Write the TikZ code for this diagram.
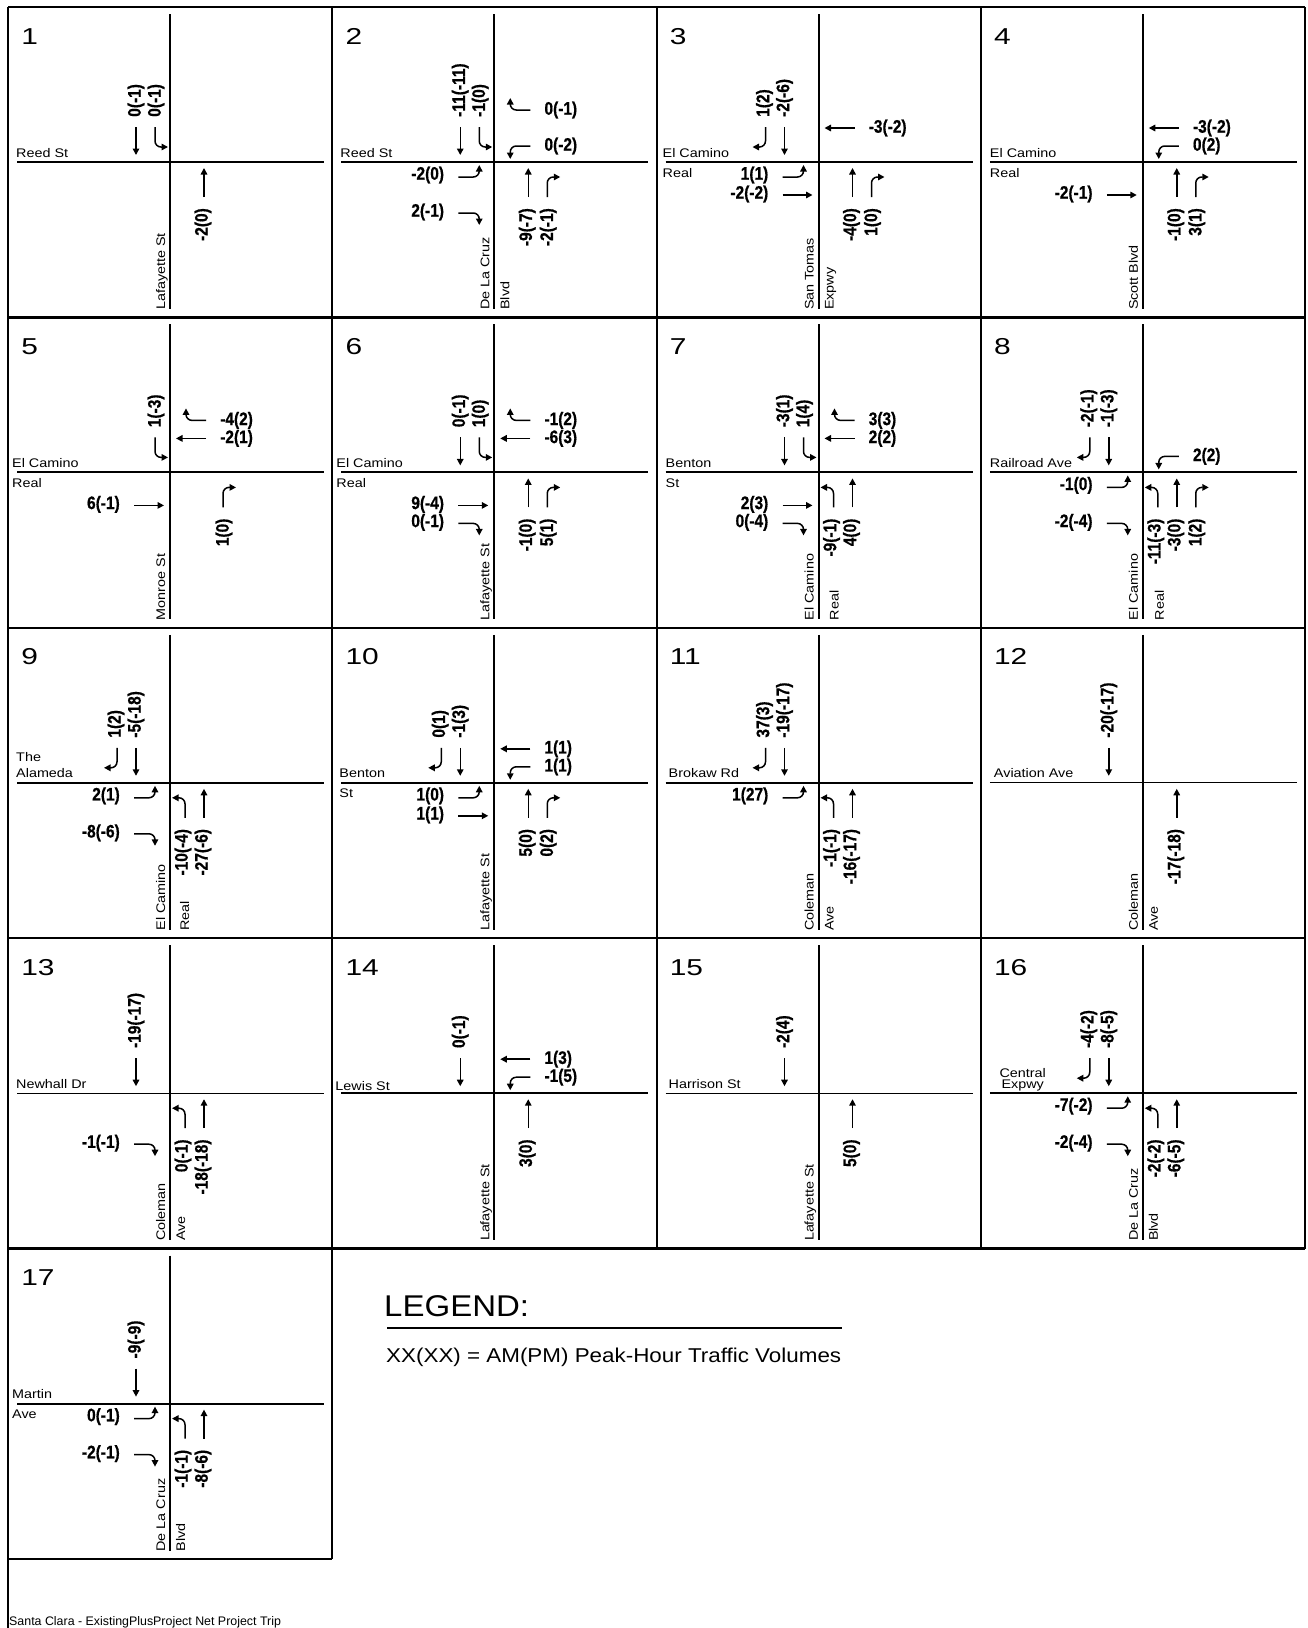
\documentclass[tikz,border=0pt]{standalone}
\usepackage{fontspec}
\setmainfont{Liberation Sans}
\usetikzlibrary{arrows.meta}
\newfontfamily\lsans{Liberation Sans}
\newfontfamily\volfam[FakeBold=0.7]{Liberation Sans Bold}
\newcommand\volf{\volfam\fontsize{15.5pt}{16pt}\selectfont}
\newcommand\stf{\lsans\fontsize{12.5pt}{13pt}\selectfont}
\newcommand\numf{\lsans\fontsize{23pt}{24pt}\selectfont}
\newcommand\legf{\lsans\fontsize{30pt}{32pt}\selectfont}
\newcommand\legtf{\lsans\fontsize{20pt}{22pt}\selectfont}
\newcommand\footf{\lsans\fontsize{12.4pt}{13pt}\selectfont}

\tikzset{
 road/.style={line width=2pt},
 roadthin/.style={line width=1.3pt},
 frameh/.style={line width=2.5pt},
 framev/.style={line width=2pt},
 mv/.style={line width=1.5pt, rounded corners=6pt, -{Triangle[length=6.5pt,width=6.5pt]}},
 vol/.style={font=\volf, inner sep=0pt, yscale=1.17},
 street/.style={font=\stf, inner sep=0pt, xscale=1.15},
 pnum/.style={font=\numf, inner sep=0pt, anchor=base west, xscale=1.3},
}

\newcommand\pnumber[1]{\node[pnum] (\pn num) at (-149,-118) {#1};}
\newcommand\roads{\draw[road] (0,-148) -- (0,147); \draw[road] (-153,0) -- (154,0);}
\newcommand\roadsT{\draw[road] (0,-148) -- (0,147); \draw[roadthin] (-153,0) -- (154,0);}
\newcommand\hst[2]{\node[street,anchor=base west] (\pn hs) at ({#1-162},-5) {#2};}
\newcommand\hstt[3]{\hst{#1}{#2}\node[street,anchor=base west] (\pn hsb) at ({#1-162},15) {#3};}
\newcommand\vst[1]{\node[rotate=90,street,anchor=base west] (\pn vs) at (-5,148) {#1};}
\newcommand\vstt[3]{\vst{#1}\node[rotate=90,street,anchor=base west] (\pn vsb) at (#3,148) {#2};}

\newcommand\mvSBT[1]{\draw[mv] (-34,-35) -- (-34,-7); \node[rotate=90,vol,anchor=west] (\pn sbT) at (-34,-45) {#1};}
\newcommand\mvSBL[1]{\draw[mv] (-15,-35) -- (-15,-15) -- (-2,-15); \node[rotate=90,vol,anchor=west] (\pn sbL) at (-14,-45) {#1};}
\newcommand\mvSBR[1]{\draw[mv] (-53,-35) -- (-53,-15) -- (-66,-15); \node[rotate=90,vol,anchor=west] (\pn sbR) at (-54,-45) {#1};}
\newcommand\mvNBT[1]{\draw[mv] (34,35) -- (34,6); \node[rotate=90,vol,anchor=east] (\pn nbT) at (33,46) {#1};}
\newcommand\mvNBL[1]{\draw[mv] (15,35) -- (15,15) -- (2,15); \node[rotate=90,vol,anchor=east] (\pn nbL) at (13,46) {#1};}
\newcommand\mvNBR[1]{\draw[mv] (53,35) -- (53,15) -- (66,15); \node[rotate=90,vol,anchor=east] (\pn nbR) at (54,46) {#1};}
\newcommand\mvWBT[1]{\draw[mv] (36,-34) -- (6,-34); \node[vol,anchor=west] (\pn wbT) at (50,-34) {#1};}
\newcommand\mvWBR[1]{\draw[mv] (36,-52) -- (16,-52) -- (16,-64); \node[vol,anchor=west] (\pn wbR) at (50,-52) {#1};}
\newcommand\mvWBL[1]{\draw[mv] (36,-16) -- (16,-16) -- (16,-3); \node[vol,anchor=west] (\pn wbL) at (50,-16) {#1};}
\newcommand\mvEBT[1]{\draw[mv] (-36,33) -- (-6,33); \node[vol,anchor=east] (\pn ebT) at (-50,32) {#1};}
\newcommand\mvEBL[1]{\draw[mv] (-36,15) -- (-15,15) -- (-15,3); \node[vol,anchor=east] (\pn ebL) at (-50,13) {#1};}
\newcommand\mvEBR[1]{\draw[mv] (-36,51) -- (-15,51) -- (-15,63); \node[vol,anchor=east] (\pn ebR) at (-50,50) {#1};}

\begin{document}
\begin{tikzpicture}[x=1pt,y=-1pt]
\useasboundingbox (0,0) rectangle (1308,1628);
\fill[white] (0,0) rectangle (1308,1628);

% frame
\draw[frameh] (8,7) -- (1305,7);
\draw[frameh] (8,317.4) -- (1305,317.4);
\draw[frameh] (8,627.8) -- (1305,627.8);
\draw[frameh] (8,938.2) -- (1305,938.2);
\draw[frameh] (8,1248.6) -- (1305,1248.6);
\draw[frameh] (8,1559) -- (332.25,1559);
\draw[framev] (332.25,7) -- (332.25,1559);
\draw[framev] (656.5,7) -- (656.5,1248.6);
\draw[framev] (980.75,7) -- (980.75,1248.6);
\draw[framev] (1305,7) -- (1305,1248.6);
\draw[line width=1.2pt] (8,7) -- (8,1628);

% 1
\begin{scope}[shift={(170,162)}]\def\pn{p1}
\roads\pnumber{1}
\hst{8}{Reed St}\vst{Lafayette St}
\mvSBT{0(-1)}\mvSBL{0(-1)}\mvNBT{-2(0)}
\end{scope}
% 2
\begin{scope}[shift={(494.25,162)}]\def\pn{p2}
\roads\pnumber{2}
\hst{8}{Reed St}\vstt{De La Cruz}{Blvd}{15}
\mvSBT{-11(-11)}\mvSBL{-1(0)}\mvWBR{0(-1)}\mvWBL{0(-2)}
\mvEBL{-2(0)}\mvEBR{2(-1)}\mvNBT{-9(-7)}\mvNBR{-2(-1)}
\end{scope}
% 3
\begin{scope}[shift={(818.5,162)}]\def\pn{p3}
\roads\pnumber{3}
\hstt{6}{El Camino}{Real}\vstt{San Tomas}{Expwy}{15}
\mvSBR{1(2)}\mvSBT{-2(-6)}\mvWBT{-3(-2)}\mvEBL{1(1)}\mvEBT{-2(-2)}
\mvNBT{-4(0)}\mvNBR{1(0)}
\end{scope}
% 4
\begin{scope}[shift={(1142.75,162)}]\def\pn{p4}
\roads\pnumber{4}
\hstt{9}{El Camino}{Real}\vst{Scott Blvd}
\mvWBT{-3(-2)}\mvWBL{0(2)}\mvEBT{-2(-1)}\mvNBT{-1(0)}\mvNBR{3(1)}
\end{scope}
% 5
\begin{scope}[shift={(170,472.4)}]\def\pn{p5}
\roads\pnumber{5}
\hstt{4}{El Camino}{Real}\vst{Monroe St}
\mvSBL{1(-3)}\mvWBR{-4(2)}\mvWBT{-2(1)}\mvEBT{6(-1)}\mvNBR{1(0)}
\end{scope}
% 6
\begin{scope}[shift={(494.25,472.4)}]\def\pn{p6}
\roads\pnumber{6}
\hstt{4}{El Camino}{Real}\vst{Lafayette St}
\mvSBT{0(-1)}\mvSBL{1(0)}\mvWBR{-1(2)}\mvWBT{-6(3)}
\mvEBT{9(-4)}\mvEBR{0(-1)}\mvNBT{-1(0)}\mvNBR{5(1)}
\end{scope}
% 7
\begin{scope}[shift={(818.5,472.4)}]\def\pn{p7}
\roads\pnumber{7}
\hstt{9}{Benton}{St}\vstt{El Camino}{Real}{20}
\mvSBT{-3(1)}\mvSBL{1(4)}\mvWBR{3(3)}\mvWBT{2(2)}
\mvEBT{2(3)}\mvEBR{0(-4)}\mvNBL{-9(-1)}\mvNBT{4(0)}
\end{scope}
% 8
\begin{scope}[shift={(1142.75,472.4)}]\def\pn{p8}
\roads\pnumber{8}
\hst{9}{Railroad Ave}\vstt{El Camino}{Real}{21}
\mvSBR{-2(-1)}\mvSBT{-1(-3)}\mvWBL{2(2)}\mvEBL{-1(0)}\mvEBR{-2(-4)}
\mvNBL{-11(-3)}\mvNBT{-3(0)}\mvNBR{1(2)}
\end{scope}
% 9
\begin{scope}[shift={(170,782.8)}]\def\pn{p9}
\roads\pnumber{9}
\node[street,anchor=base west] (\pn hs) at (-154,-21) {The};
\node[street,anchor=base west] (\pn hsb) at (-154,-5) {Alameda};
\vstt{El Camino}{Real}{19}
\mvSBR{1(2)}\mvSBT{-5(-18)}\mvEBL{2(1)}\mvEBR{-8(-6)}
\mvNBL{-10(-4)}\mvNBT{-27(-6)}
\end{scope}
% 10
\begin{scope}[shift={(494.25,782.8)}]\def\pn{p10}
\roads\pnumber{10}
\hstt{7}{Benton}{St}\vst{Lafayette St}
\mvSBR{0(1)}\mvSBT{-1(3)}\mvWBT{1(1)}\mvWBL{1(1)}
\mvEBL{1(0)}\mvEBT{1(1)}\mvNBT{5(0)}\mvNBR{0(2)}
\end{scope}
% 11
\begin{scope}[shift={(818.5,782.8)}]\def\pn{p11}
\roads\pnumber{11}
\hst{12}{Brokaw Rd}\vstt{Coleman}{Ave}{15}
\mvSBR{37(3)}\mvSBT{-19(-17)}\mvEBL{1(27)}\mvNBL{-1(-1)}\mvNBT{-16(-17)}
\end{scope}
% 12
\begin{scope}[shift={(1142.75,782.8)}]\def\pn{p12}
\roadsT\pnumber{12}
\hst{13}{Aviation Ave}\vstt{Coleman}{Ave}{15}
\mvSBT{-20(-17)}\mvNBT{-17(-18)}
\end{scope}
% 13
\begin{scope}[shift={(170,1093.2)}]\def\pn{p13}
\roadsT\pnumber{13}
\hst{8}{Newhall Dr}\vstt{Coleman}{Ave}{15}
\mvSBT{-19(-17)}\mvEBR{-1(-1)}\mvNBL{0(-1)}\mvNBT{-18(-18)}
\end{scope}
% 14
\begin{scope}[shift={(494.25,1093.2)}]\def\pn{p14}
\roads\pnumber{14}
\node[street,anchor=base west] (\pn hs) at (-159,-3) {Lewis St};
\vst{Lafayette St}
\mvSBT{0(-1)}\mvWBT{1(3)}\mvWBL{-1(5)}\mvNBT{3(0)}
\end{scope}
% 15
\begin{scope}[shift={(818.5,1093.2)}]\def\pn{p15}
\roadsT\pnumber{15}
\hst{12}{Harrison St}\vst{Lafayette St}
\mvSBT{-2(4)}\mvNBT{5(0)}
\end{scope}
% 16
\begin{scope}[shift={(1142.75,1093.2)}]\def\pn{p16}
\roads\pnumber{16}
\node[street,anchor=base] (\pn hs) at (-120,-16) {Central};
\node[street,anchor=base] (\pn hsb) at (-120,-5) {Expwy};
\vstt{De La Cruz}{Blvd}{15}
\mvSBR{-4(-2)}\mvSBT{-8(-5)}\mvEBL{-7(-2)}\mvEBR{-2(-4)}
\mvNBL{-2(-2)}\mvNBT{-6(-5)}
\end{scope}
% 17
\begin{scope}[shift={(170,1403.6)}]\def\pn{p17}
\roads\pnumber{17}
\hstt{4}{Martin}{Ave}\vstt{De La Cruz}{Blvd}{15}
\mvSBT{-9(-9)}\mvEBL{0(-1)}\mvEBR{-2(-1)}\mvNBL{-1(-1)}\mvNBT{-8(-6)}
\end{scope}

% legend
\node[font=\legf, inner sep=0pt, anchor=base west, xscale=1.1] (legend) at (384,1316) {LEGEND:};
\coordinate (legA) at (387,1328);
\coordinate (legB) at (842,1328);
\draw[line width=1.5pt] (legA) -- (legB);
\node[font=\legtf, inner sep=0pt, anchor=base west, xscale=1.12] (legtext) at (386,1362) {XX(XX) = AM(PM) Peak-Hour Traffic Volumes};
\node[font=\footf, inner sep=0pt, anchor=base west] (footer) at (9,1625) {Santa Clara - ExistingPlusProject Net Project Trip};
\end{tikzpicture}
\end{document}
